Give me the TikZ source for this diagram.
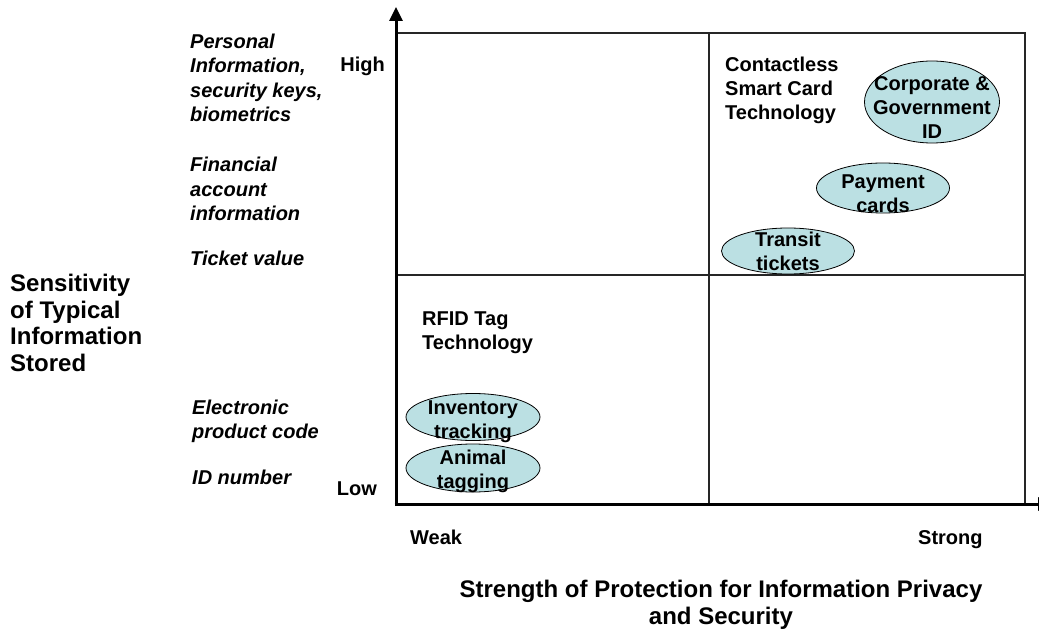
\documentclass[tikz,border=0pt]{standalone}
\usepackage{fontspec}
\setmainfont{Liberation Sans}
\usetikzlibrary{arrows.meta,shapes.geometric}
\definecolor{bbe0e3}{rgb}{0.7333,0.8784,0.8902}
\definecolor{qqqqqq}{rgb}{0.15,0.15,0.15}
\begin{document}
\begin{tikzpicture}[line cap=butt,line join=miter,>={Triangle[length=14pt,width=13pt]},x=1pt,y=-1pt,
  lbl/.style={anchor=west,inner sep=0pt,align=left,font=\fontsize{20}{24}\selectfont\bfseries},
  ilbl/.style={lbl,font=\fontsize{20}{24.3}\selectfont\bfseries\itshape},
  big/.style={inner sep=0pt,font=\fontsize{24}{26.5}\selectfont\bfseries},
  blob/.style={ellipse,draw=black,line width=0.8pt,fill=bbe0e3,inner sep=-40pt,align=center,font=\fontsize{20}{24}\selectfont\bfseries},
  lower/.style={text height=#1}]
\clip(0,0) rectangle (1039,631);
\coordinate (O) at (396,504);
\coordinate (ytop) at (396,7);
\coordinate (xend) at (1052,504);
\coordinate (NE) at (1025,33);
% quadrants
\draw [line width=1.2pt,color=qqqqqq] (O) rectangle (NE);
\draw [line width=1.2pt,color=qqqqqq] (709,33) -- (709,504);
\draw [line width=1.2pt,color=qqqqqq] (396,275) -- (1025,275);
% axes
\draw [->,line width=3pt] (396,506) -- (ytop);
\draw [->,line width=3pt] (394.5,504) -- (xend);
% ovals
\node [blob,lower=72.5pt,minimum width=135,minimum height=82] (corp) at (932,102) {Corporate \&\\Government\\ID};
\node [blob,lower=48.5pt,minimum width=133,minimum height=50] (pay) at (883,188) {Payment\\cards};
\node [blob,minimum width=133,minimum height=46] (transit) at (788,251) {Transit\\tickets};
\node [blob,lower=46.5pt,minimum width=134,minimum height=47] (inv) at (473,417) {Inventory\\tracking};
\node [blob,lower=44.5pt,minimum width=134,minimum height=48] (animal) at (473,468) {Animal\\tagging};
% labels
\node [lbl] (smart) at (725,90) {Contactless\\Smart Card\\Technology};
\node [lbl] (rfid) at (422,333) {RFID Tag\\Technology};
\node [ilbl] (personal) at (190,78) {Personal\\Information,\\security keys,\\biometrics};
\node [ilbl] (financial) at (190,189) {Financial\\account\\information};
\node [ilbl] (ticket) at (190,258) {Ticket value};
\node [ilbl] (epc) at (192,421) {Electronic\\product code};
\node [ilbl] (idnum) at (192,477) {ID number};
\node [lbl,anchor=east] (high) at (385,66) {High};
\node [lbl,anchor=east] (low) at (377,489) {Low};
\node [lbl,anchor=base west] (weak) at (410,544) {Weak};
\node [lbl,anchor=base west] (strong) at (918,544) {Strong};
\node [big,anchor=west,align=left] (sens) at (10,323) {Sensitivity\\of Typical\\Information\\Stored};
\node [big,align=center] (strength) at (721,605) {Strength of Protection for Information Privacy\\and Security};
\end{tikzpicture}
\end{document}
